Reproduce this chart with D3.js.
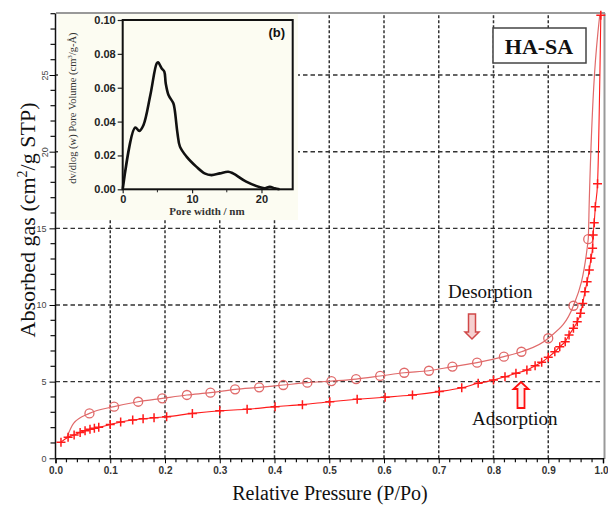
<!DOCTYPE html>
<html><head><meta charset="utf-8">
<script src="https://cdn.jsdelivr.net/npm/d3@7"></script>
<style>html,body{margin:0;padding:0;background:#fff;}svg{display:block;}</style>
</head><body>
<svg id="c" width="608" height="507"></svg>
<script>
// ---- Main isotherm data ----
const adsP = [0.01,0.023,0.034,0.045,0.054,0.063,0.071,0.079,0.1,0.119,0.141,0.16,0.18,0.203,0.25,0.3,0.35,0.401,0.451,0.501,0.551,0.602,0.652,0.701,0.742,0.772,0.8,0.821,0.841,0.861,0.876,0.888,0.9,0.912,0.921,0.931,0.938,0.946,0.953,0.959,0.963,0.967,0.971,0.975,0.978,0.981,0.982,0.984,0.986,0.99,0.996];
const adsV = [1.05,1.37,1.52,1.69,1.8,1.89,1.96,2.02,2.2,2.37,2.5,2.58,2.65,2.71,2.93,3.1,3.2,3.37,3.5,3.69,3.85,3.98,4.13,4.35,4.6,4.89,5.1,5.32,5.54,5.76,6.04,6.26,6.59,6.95,7.28,7.61,8.04,8.48,8.91,9.46,10.1,10.87,11.52,12.28,13.05,13.7,14.57,15.37,16.4,17.9,28.9];
const desP = [0.062,0.107,0.151,0.195,0.24,0.283,0.328,0.372,0.416,0.46,0.504,0.549,0.593,0.637,0.682,0.725,0.77,0.819,0.851,0.9,0.946,0.973];
const desV = [2.93,3.37,3.69,3.91,4.13,4.28,4.5,4.63,4.78,4.93,5.04,5.17,5.37,5.58,5.71,5.98,6.24,6.63,6.95,7.83,9.95,14.29];
const desStartP = [0.02,0.033];
const desStartV = [1.3,2.28];
const desEndP = [0.975,0.994];
const desEndV = [16.9,28.9];
const xTicks = [0,0.1,0.2,0.3,0.4,0.5,0.6,0.7,0.8,0.9,1.0];
const xTickLabels = ["0.0","0.1","0.2","0.3","0.4","0.5","0.6","0.7","0.8","0.9","1.0"];
const yTicks = [0,5,10,15,20,25];
const yTickLabels = ["0","5","10","15","20","25"];

// ---- Inset pore-size distribution ----
const psdW = [0,1.8,2.4,3.0,4.0,4.9,5.1,5.6,6.0,6.2,6.6,7.3,7.5,7.9,8.25,9.2,10.6,11.8,12.8,14,15.2,15.9,17.8,19.8,20.5,21.2,21.9,22.6];
const psdV = [0,0.0365,0.0345,0.038,0.056,0.0744,0.075,0.0715,0.0695,0.0626,0.0557,0.0508,0.0468,0.033,0.0252,0.0193,0.0134,0.0094,0.0084,0.0094,0.0104,0.0094,0.0045,0.0012,0.0006,0.0015,0.0006,0];
const insetXTicks = [0,10,20];
const insetYTicks = [0,0.02,0.04,0.06,0.08,0.10];
const insetYTickLabels = ["0.00","0.02","0.04","0.06","0.08","0.10"];

const svg = d3.select("#c");
const x = d3.scaleLinear([0,1],[55.5,603]);
const y = d3.scaleLinear([0,29],[458.3,13.7]);

// grid
const g = svg.append("g");
g.selectAll(".vg").data(xTicks.filter(d=>d>0&&d<1)).join("line")
  .attr("x1",d=>x(d)).attr("x2",d=>x(d)).attr("y1",y(0)).attr("y2",y(29))
  .attr("stroke","#333").attr("stroke-width",1.5).attr("stroke-dasharray","3,2");
g.selectAll(".hg").data(yTicks.filter(d=>d>0)).join("line")
  .attr("x1",x(0)).attr("x2",x(1)).attr("y1",d=>y(d)).attr("y2",d=>y(d))
  .attr("stroke","#333").attr("stroke-width",1.4).attr("stroke-dasharray","4.5,3");

// inset background
svg.append("rect").attr("x",58).attr("y",14).attr("width",240).attr("height",206).attr("fill","#fcfcf2");

// main frame
svg.append("line").attr("x1",56).attr("x2",605).attr("y1",13).attr("y2",13).attr("stroke","#999").attr("stroke-width",2);
svg.append("line").attr("x1",604.5).attr("x2",604.5).attr("y1",13).attr("y2",459).attr("stroke","#999").attr("stroke-width",2);

// axes
const xAxis = d3.axisBottom(x).tickValues(xTicks).tickFormat((d,i)=>xTickLabels[i]).tickSize(5).tickPadding(4);
const xa = svg.append("g").attr("transform",`translate(0,${y(0)})`).call(xAxis);
xa.select(".domain").attr("stroke","#111").attr("stroke-width",1.5);
xa.selectAll("text").attr("font-family","Arial, Liberation Sans, sans-serif").attr("font-size",10).attr("fill","#333").attr("font-weight","bold");
xa.selectAll(".tick").filter(d=>d===1).select("text").attr("text-anchor","end").attr("x",5);
const xMinor = d3.range(0,51).map(i=>i*0.02).filter(d=>Math.round(d*50)%5!==0);
svg.append("g").selectAll("line").data(xMinor).join("line")
  .attr("x1",d=>x(d)).attr("x2",d=>x(d)).attr("y1",y(0)).attr("y2",y(0)+4).attr("stroke","#111").attr("stroke-width",1.2);

const yAxis = d3.axisLeft(y).tickValues(yTicks).tickFormat((d,i)=>yTickLabels[i]).tickSize(6).tickPadding(3);
const ya = svg.append("g").attr("transform",`translate(${x(0)},0)`).call(yAxis);
ya.select(".domain").attr("stroke","#111").attr("stroke-width",1.5).attr("d",`M-0,${y(0)}V${y(29)}`);
ya.selectAll("text").attr("font-family","Arial, Liberation Sans, sans-serif").attr("font-size",9).attr("fill","#444");
ya.selectAll(".tick").filter(d=>d>=20).select("text")
  .attr("x",0).attr("dy","0.32em").attr("text-anchor","middle").attr("transform","translate(-10.5,0) rotate(-90)");
const yMinor = d3.range(0,30).filter(d=>d%5!==0);
svg.append("g").selectAll("line").data(yMinor).join("line")
  .attr("x1",x(0)-5).attr("x2",x(0)).attr("y1",d=>y(d)).attr("y2",d=>y(d)).attr("stroke","#111").attr("stroke-width",1.2);

// axis titles
svg.append("text").attr("x",330).attr("y",500).attr("text-anchor","middle")
  .attr("font-family","Liberation Serif, Times New Roman, serif").attr("font-size",20).attr("fill","#111")
  .text("Relative Pressure (P/Po)");
const yt = svg.append("text").attr("transform","translate(35,220) rotate(-90)").attr("text-anchor","middle")
  .attr("font-family","Liberation Serif, Times New Roman, serif").attr("font-size",22).attr("fill","#111");
yt.append("tspan").text("Absorbed gas (cm");
yt.append("tspan").attr("font-size",14).attr("dy",-8).text("2");
yt.append("tspan").attr("dy",8).text("/g STP)");

// series
const line = d3.line().x(d=>x(d[0])).y(d=>y(d[1])).curve(d3.curveMonotoneX);
const adsData = adsP.map((p,i)=>[p,adsV[i]]);
const desCircles = desP.map((p,i)=>[p,desV[i]]);
const desLine = desStartP.map((p,i)=>[p,desStartV[i]]).concat(desCircles, desEndP.map((p,i)=>[p,desEndV[i]]));
const desColor = "#e06a6a", adsColor = "#ff1a1a";
svg.append("path").datum(desLine).attr("d",line).attr("fill","none").attr("stroke",desColor).attr("stroke-width",1.2);
svg.append("g").selectAll("circle").data(desCircles).join("circle")
  .attr("cx",d=>x(d[0])).attr("cy",d=>y(d[1])).attr("r",4.5).attr("fill","none").attr("stroke",desColor).attr("stroke-width",1.3);
svg.append("path").datum(adsData).attr("d",line).attr("fill","none").attr("stroke",adsColor).attr("stroke-width",1.1);
svg.append("g").selectAll("path").data(adsData).join("path")
  .attr("d",d=>`M${x(d[0])-4.5},${y(d[1])}h9M${x(d[0])},${y(d[1])-4.5}v9`)
  .attr("stroke",adsColor).attr("stroke-width",1.5);

// HA-SA box
svg.append("rect").attr("x",493).attr("y",28).attr("width",93).attr("height",35).attr("fill","#fff").attr("stroke","#444").attr("stroke-width",1.5);
svg.append("text").attr("x",539).attr("y",54).attr("text-anchor","middle")
  .attr("font-family","Liberation Serif, Times New Roman, serif").attr("font-weight","bold").attr("font-size",22).attr("fill","#111").text("HA-SA");

// annotations
svg.append("text").attr("x",448).attr("y",298)
  .attr("font-family","Liberation Serif, Times New Roman, serif").attr("font-size",19).attr("fill","#111").text("Desorption");
svg.append("text").attr("x",472).attr("y",425)
  .attr("font-family","Liberation Serif, Times New Roman, serif").attr("font-size",19).attr("fill","#111").text("Adsorption");
// down arrow (desorption)
svg.append("path").attr("d","M468.5,314H475.5V332H479L472,339L465,332H468.5Z")
  .attr("fill","#f6d0d0").attr("stroke","#d04848").attr("stroke-width",1.5);
// up arrow (adsorption)
svg.append("path").attr("d","M517.5,408H524.5V389H528.5L521,382L513.5,389H517.5Z")
  .attr("fill","#fff0f0").attr("stroke","#ff1010").attr("stroke-width",1.8);

// ---- Inset chart ----
const xi = d3.scaleLinear([0,24.5],[122.7,292.7]);
const yi = d3.scaleLinear([0,0.1],[189.3,20]);
const ins = svg.append("g");
const ixa = ins.append("g").attr("transform",`translate(0,${yi(0)})`)
  .call(d3.axisBottom(xi).tickValues(insetXTicks).tickFormat(d3.format("d")).tickSize(4).tickPadding(2));
ixa.select(".domain").remove();
ins.append("g").selectAll("line").data([5,15]).join("line")
  .attr("x1",d=>xi(d)).attr("x2",d=>xi(d)).attr("y1",yi(0)).attr("y2",yi(0)+3).attr("stroke","#222");
const iya = ins.append("g").attr("transform",`translate(${xi(0)},0)`)
  .call(d3.axisLeft(yi).tickValues(insetYTicks).tickFormat((d,i)=>insetYTickLabels[i]).tickSize(5).tickPadding(2));
iya.select(".domain").remove();
ins.selectAll(".tick text").attr("font-family","Arial, Liberation Sans, sans-serif").attr("font-weight","bold").attr("font-size",11).attr("fill","#222");
ins.selectAll(".tick line").attr("stroke","#222").attr("stroke-width",1.2);
ins.append("rect").attr("x",xi(0)).attr("y",yi(0.1)).attr("width",xi(24.5)-xi(0)).attr("height",yi(0)-yi(0.1))
  .attr("fill","none").attr("stroke","#111").attr("stroke-width",2);
ins.append("path").datum(psdW.map((w,i)=>[w,psdV[i]]))
  .attr("d",d3.line().x(d=>xi(d[0])).y(d=>yi(d[1])).curve(d3.curveCatmullRom.alpha(0.5)))
  .attr("fill","none").attr("stroke","#111").attr("stroke-width",2.6).attr("stroke-linejoin","round");
ins.append("text").attr("x",285).attr("y",37).attr("text-anchor","end")
  .attr("font-family","Arial, Liberation Sans, sans-serif").attr("font-weight","bold").attr("font-size",13).attr("fill","#111").text("(b)");
ins.append("text").attr("x",207).attr("y",215).attr("text-anchor","middle")
  .attr("font-family","Liberation Serif, Times New Roman, serif").attr("font-weight","bold").attr("font-size",11).attr("fill","#333").text("Pore width / nm");
const iyt = ins.append("text").attr("transform","translate(76,108) rotate(-90)").attr("text-anchor","middle")
  .attr("font-family","Liberation Serif, Times New Roman, serif").attr("font-size",10.5).attr("fill","#333");
iyt.append("tspan").text("dv/dlog (w) Pore Volume (cm");
iyt.append("tspan").attr("font-size",7).attr("dy",-4).text("3");
iyt.append("tspan").attr("dy",4).text("/g-Å)");
</script>
</body></html>
